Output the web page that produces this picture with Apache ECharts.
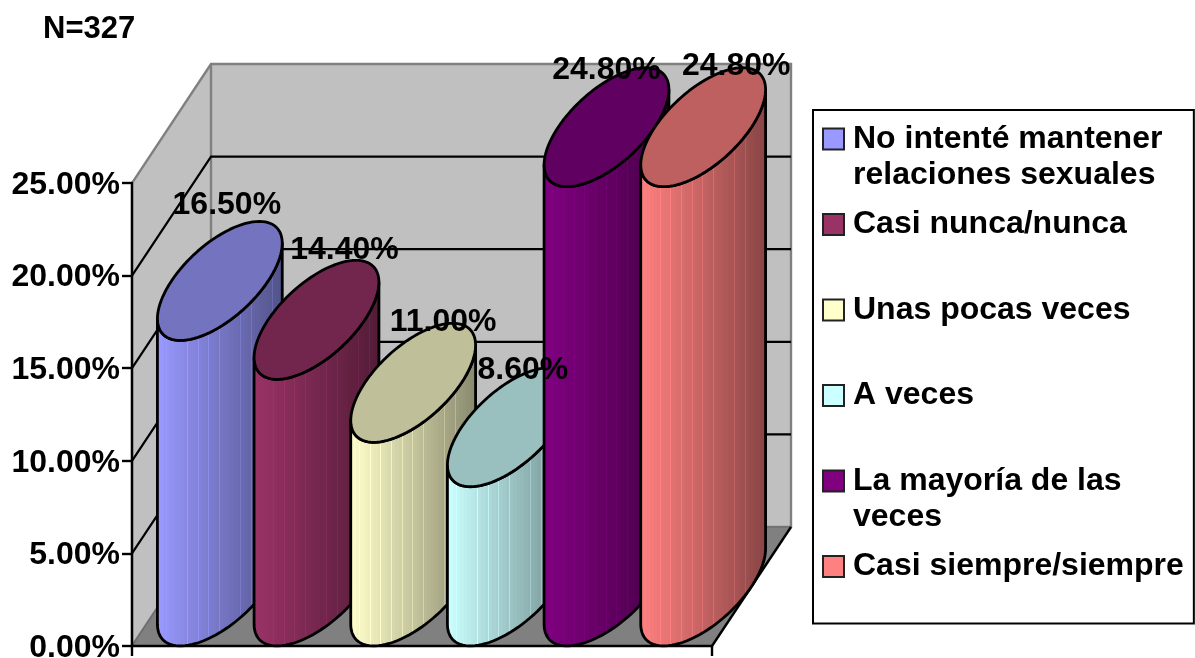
<!DOCTYPE html>
<html>
<head>
<meta charset="utf-8">
<style>html,body{margin:0;padding:0;background:#fff}#c{width:1195px;height:658px}</style>
<script src="https://cdn.jsdelivr.net/npm/echarts@6/dist/echarts.min.js"></script>
</head>
<body>
<div id="c"></div>
<script>
const categories = ['No intenté mantener relaciones sexuales','Casi nunca/nunca','Unas pocas veces','A veces','La mayoría de las veces','Casi siempre/siempre'];
const legendLines = [['No intenté mantener','relaciones sexuales'],['Casi nunca/nunca'],['Unas pocas veces'],['A veces'],['La mayoría de las','veces'],['Casi siempre/siempre']];
const values = [16.5,14.4,11.0,8.6,24.8,24.8];
const colors = ['#9999ff','#993366','#ffffcc','#ccffff','#800080','#ff8080'];
const yTicks = [0,5,10,15,20,25];
const labelShift = [[7,-16],[28,-10],[30,-1],[13,2],[0,2],[33,-2]];

const FONT = '"Liberation Sans", Arial, sans-serif';
const FS = 32;
const DX = 79, DY = 119;

function shade(hex, k){
  const n = parseInt(hex.slice(1),16);
  const c = [(n>>16)&255,(n>>8)&255,n&255].map(v=>Math.round(v*k));
  return 'rgb('+c.join(',')+')';
}
function sideGradient(hex){
  const steps = 36, stops = [];
  for(let i=0;i<steps;i++){
    const k = 1-0.46*i/(steps-1);
    const from = i/steps, to = (i+1)/steps;
    const lighter = i%3===2;
    stops.push({offset:from,color:shade(hex,k)});
    stops.push({offset:lighter?to-0.006:to,color:shade(hex,k)});
    if(lighter){
      stops.push({offset:to-0.006,color:shade(hex,Math.min(1,k+0.1))});
      stops.push({offset:to,color:shade(hex,Math.min(1,k+0.1))});
    }
  }
  return new echarts.graphic.LinearGradient(0,0,1,0,stops);
}
function renderBar(i){
  return function(params, api){
    const top = api.coord([api.value(0), api.value(1)]);
    const base = api.coord([api.value(0), 0]);
    const ux = api.size([1,0])[0]/2, vx = DX/2, vy = DY/2;
    const cx = top[0]+vx;
    const at = (cy,t)=>[cx+ux*Math.cos(t)+vx*Math.sin(t), cy-vy*Math.sin(t)];
    const ts = Math.atan2(vx,ux), N = 48;
    const ctop = top[1]-vy, cbase = base[1]-vy;
    const side = [], lid = [];
    for(let k=0;k<=N;k++) side.push(at(cbase, ts+Math.PI+Math.PI*k/N));
    for(let k=0;k<=N;k++) side.push(at(ctop, ts+2*Math.PI-Math.PI*k/N));
    for(let k=0;k<96;k++) lid.push(at(ctop, 2*Math.PI*k/96));
    const stroke = {stroke:'#000',lineWidth:2.8,lineJoin:'round'};
    return {type:'group',children:[
      {type:'polygon',shape:{points:side},style:Object.assign({fill:sideGradient(colors[i])},stroke)},
      {type:'polygon',shape:{points:lid},style:Object.assign({fill:shade(colors[i],0.75)},stroke)}
    ]};
  };
}
function renderWalls(params, api){
  const g = params.coordSys;
  const x0=g.x, x1=g.x+g.width;
  const yAt = v => api.coord([0,v])[1];
  const y0=yAt(0), yT=yAt(yTicks[yTicks.length-1]);
  const gray='#808080';
  const kids=[
    {type:'polygon',shape:{points:[[x0,y0],[x0,yT],[x0+DX,yT-DY],[x1+DX,yT-DY],[x1+DX,y0-DY],[x0+DX,y0-DY]]},style:{fill:'#c0c0c0',stroke:gray,lineWidth:2.4}},
    {type:'line',shape:{x1:x0+DX,y1:yT-DY,x2:x0+DX,y2:y0-DY},style:{stroke:gray,lineWidth:2.4}},
    {type:'polygon',shape:{points:[[x0,y0],[x1,y0],[x1+DX,y0-DY],[x0+DX,y0-DY]]},style:{fill:gray,stroke:'#6e6e6e',lineWidth:1.5}},
    {type:'line',shape:{x1:x1,y1:y0,x2:x1+DX,y2:y0-DY},style:{stroke:'#000',lineWidth:2.4}}
  ];
  yTicks.slice(1,-1).forEach(v=>{
    const y=yAt(v);
    kids.push({type:'polyline',shape:{points:[[x0,y],[x0+DX,y-DY],[x1+DX,y-DY]]},style:{fill:'none',stroke:'#000',lineWidth:2.2}});
  });
  return {type:'group',children:kids};
}
function renderLabel(params, api){
  const i=params.dataIndex;
  const p=api.coord([api.value(0),api.value(1)]);
  return {type:'text',style:{
    x:p[0]+DX/2+labelShift[i][0], y:p[1]-DY+labelShift[i][1],
    text:api.value(1).toFixed(2)+'%', align:'center', verticalAlign:'middle',
    font:'bold '+FS+'px '+FONT, fill:'#000'}};
}

const rich = {
  t:{fontFamily:FONT,fontWeight:'bold',fontSize:FS,color:'#000',lineHeight:36,height:36},
  g:{width:10,height:21},
  i:{width:29,height:21}
};
colors.forEach((c,i)=>{rich['m'+i]={width:19,height:19,backgroundColor:c,borderColor:'#222',borderWidth:2};});

const series = [{type:'custom',name:'walls',z:1,silent:true,data:[[0,0]],encode:{x:0,y:1},renderItem:renderWalls}];
categories.forEach((name,i)=>{
  series.push({type:'custom',name:name,z:3+i*0.01,data:[[i,values[i]]],encode:{x:0,y:1},itemStyle:{color:colors[i]},renderItem:renderBar(i)});
});
series.push({type:'custom',name:'labels',z:5,silent:true,data:values.map((v,i)=>[i,v]),encode:{x:0,y:1},renderItem:renderLabel});

const chart = echarts.init(document.getElementById('c'),null,{renderer:'canvas'});
chart.setOption({
  animation:false,
  backgroundColor:'#fff',
  title:{text:'N=327',left:43,top:14,padding:0,textStyle:{fontFamily:FONT,fontWeight:'bold',fontSize:FS-1,color:'#000'}},
  tooltip:{show:false},
  grid:{left:132,right:483,top:183,bottom:12,containLabel:false,outerBoundsMode:'none'},
  xAxis:{type:'category',data:categories,z:2,
    axisLine:{show:true,lineStyle:{color:'#000',width:2.4}},
    axisTick:{show:true,length:10,lineStyle:{color:'#000',width:2.4},interval:i=>i===0},
    axisLabel:{show:false},splitLine:{show:false}},
  yAxis:{type:'value',min:0,max:25,interval:5,z:2,
    axisLine:{show:true,lineStyle:{color:'#000',width:2.4}},
    axisTick:{show:true,length:10,lineStyle:{color:'#000',width:2.4}},
    axisLabel:{margin:12,padding:[0,0,0,0],verticalAlignMaxLabel:'middle',verticalAlignMinLabel:'middle',lineHeight:36,fontFamily:FONT,fontWeight:'bold',fontSize:FS,color:'#000',
      formatter:v=>'{a|'+v.toFixed(2)+'%}',
      rich:{a:{fontFamily:FONT,fontWeight:'bold',fontSize:FS,color:'#000',padding:[4,0,0,0]}}},
    splitLine:{show:false}},
  legend:{
    left:813,top:110,height:520,orient:'vertical',selectedMode:false,
    backgroundColor:'#fff',borderColor:'#000',borderWidth:2,
    padding:[11,10,3,6],itemGap:13.5,itemWidth:0,itemHeight:72,
    data:categories.map(n=>({name:n,icon:'none'})),
    formatter:function(name){
      const i=categories.indexOf(name);
      const ls=legendLines[i];
      const first='{m'+i+'|}{g|}{t|'+ls[0]+'}';
      const second='{i|}{t|'+(ls[1]||' ')+'}';
      return first+'\n'+second;
    },
    textStyle:{rich:rich,lineHeight:36}
  },
  series:series
});
</script>
</body>
</html>
